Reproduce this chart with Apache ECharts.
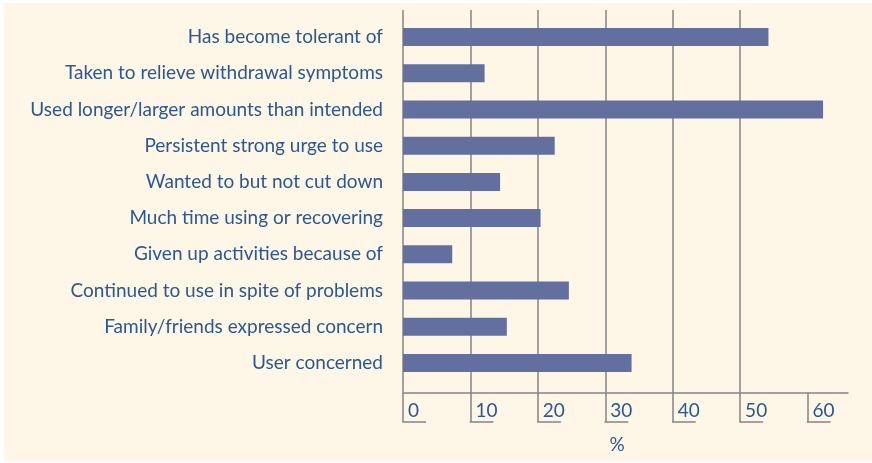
<!DOCTYPE html>
<html lang="en">
<head>
<meta charset="UTF-8">
<script src="https://cdn.jsdelivr.net/npm/echarts@6/dist/echarts.min.js"></script>
<style>
  html, body { margin: 0; padding: 0; background: #ffffff; }
  #main { position: absolute; left: 4px; top: 3px; width: 868px; height: 459px; background: #fef7e8; }
</style>
</head>
<body>
<div id="main"></div>
<script>
// categories, top to bottom
const categories = [
  'Has become tolerant of',
  'Taken to relieve withdrawal symptoms',
  'Used longer/larger amounts than intended',
  'Persistent strong urge to use',
  'Wanted to but not cut down',
  'Much time using or recovering',
  'Given up activities because of',
  'Continued to use in spite of problems',
  'Family/friends expressed concern',
  'User concerned'
];
// percent values
const values = [54.2, 12.1, 62.3, 22.5, 14.4, 20.4, 7.3, 24.6, 15.4, 33.9];
const tickValues = [0, 10, 20, 30, 40, 50, 60];

const textColor = '#2a5892';
const lineColor = '#858585';
const fontFamily = 'Lato, "Open Sans", sans-serif';

var chart = echarts.init(document.getElementById('main'));

var option = {
  backgroundColor: 'transparent',
  animation: false,
  grid: [
    { left: 399, right: 24, top: 16, bottom: 81 },   // bars
    { left: 399, right: 24, top: 7, bottom: 69 }     // gridlines + axis
  ],
  xAxis: [
    { gridIndex: 0, type: 'value', min: 0, max: 66, show: false },
    {
      gridIndex: 1, type: 'value', min: 0, max: 66, interval: 10,
      name: '%', nameLocation: 'middle', nameGap: 42,
      nameTextStyle: { color: textColor, fontSize: 19, fontFamily: fontFamily, padding: [0, 17, 0, 0] },
      axisLine: { show: true, lineStyle: { color: lineColor, width: 1.5 } },
      axisTick: { show: true, length: 29, customValues: tickValues, lineStyle: { color: lineColor, width: 1.5 } },
      axisLabel: {
        customValues: tickValues, color: textColor, fontSize: 19, fontFamily: fontFamily,
        align: 'left', margin: 8, padding: [0, 0, 0, 5]
      },
      splitLine: { show: true, showMaxLine: false, lineStyle: { color: lineColor, width: 1.5 } }
    }
  ],
  yAxis: [
    {
      gridIndex: 0, type: 'category', data: categories, inverse: true,
      axisLine: { show: false }, axisTick: { show: false },
      axisLabel: { color: textColor, fontSize: 19, fontFamily: fontFamily, margin: 20 }
    },
    { gridIndex: 1, type: 'value', show: false }
  ],
  series: [{
    type: 'bar',
    xAxisIndex: 0, yAxisIndex: 0,
    data: values,
    barWidth: 18,
    itemStyle: { color: '#636f9f' },
    z: 3
  }]
};
chart.setOption(option);

// short underline to the right of each tick foot
var tickLen = 29;
var axisY = chart.convertToPixel({ xAxisIndex: 1, yAxisIndex: 1 }, [0, 0])[1];
var feet = tickValues.map(function (v) {
  var x = chart.convertToPixel({ xAxisIndex: 1 }, v);
  return {
    type: 'line',
    shape: { x1: x - 0.75, y1: axisY + tickLen, x2: x + 23, y2: axisY + tickLen },
    style: { stroke: lineColor, lineWidth: 1.5 }
  };
});
chart.setOption({ graphic: feet });
</script>
</body>
</html>
